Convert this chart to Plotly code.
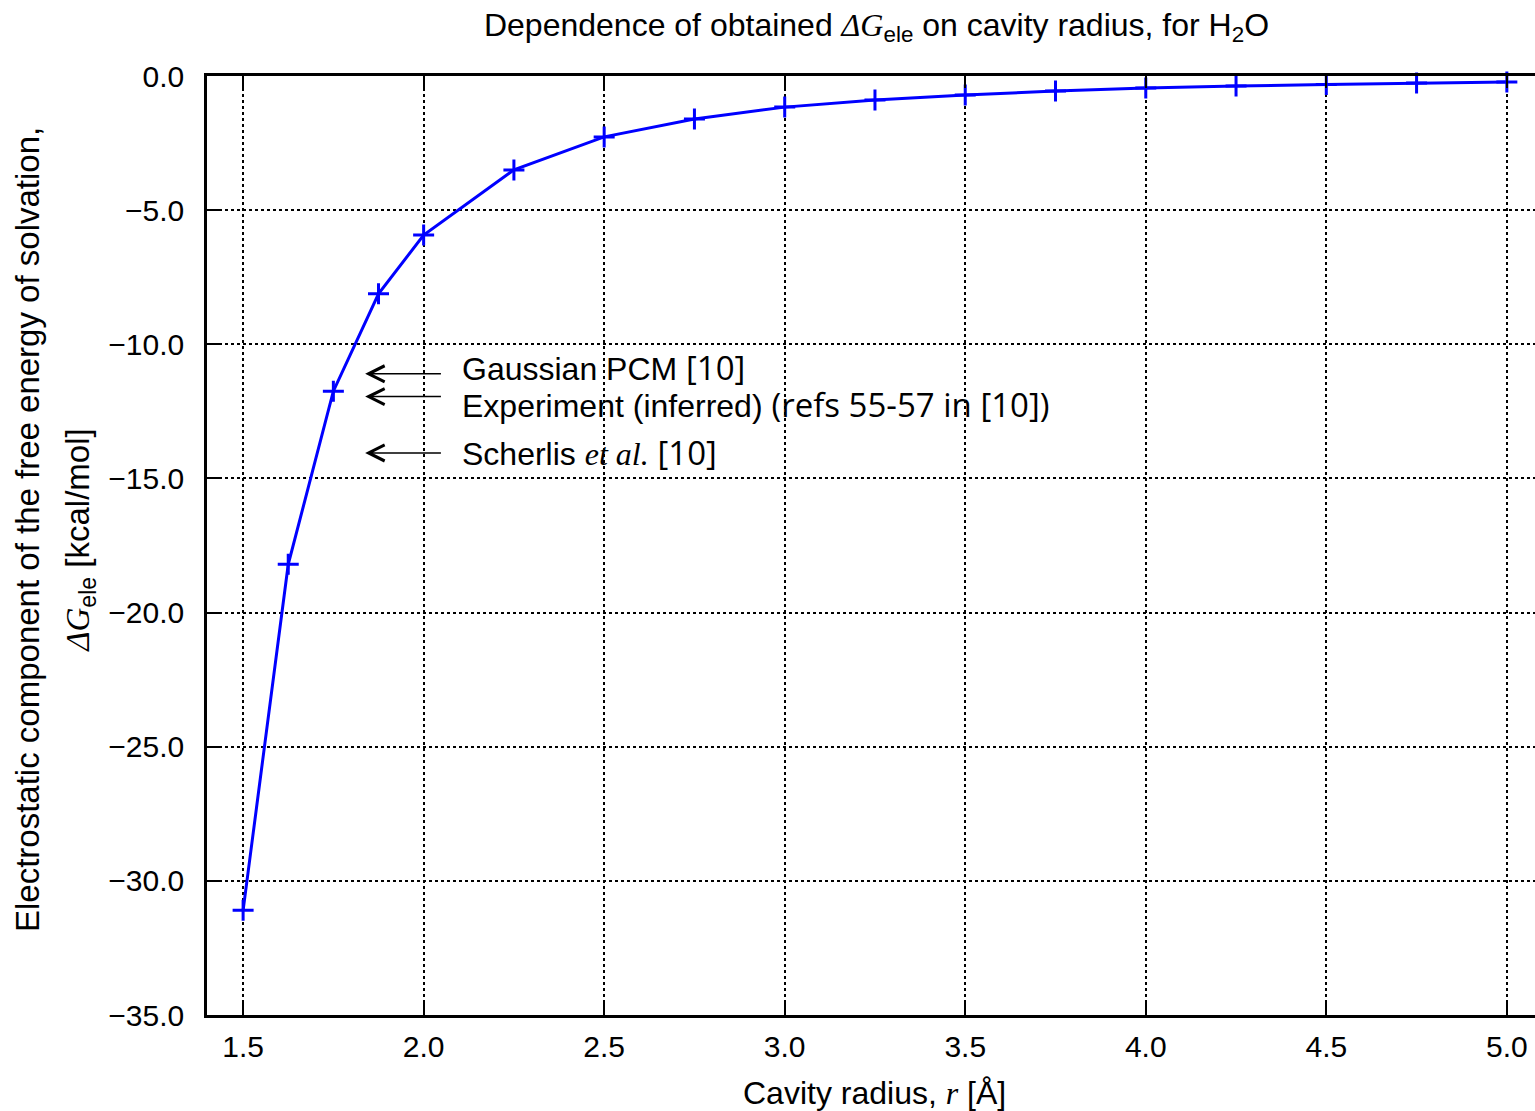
import plotly.graph_objects as go

# Cavity radius r [Å] and electrostatic solvation free energy [kcal/mol]
radius = [1.5, 1.625, 1.75, 1.875, 2.0, 2.25, 2.5, 2.75, 3.0, 3.25, 3.5,
          3.75, 4.0, 4.25, 4.5, 4.75, 5.0]
dg_ele = [-31.1, -18.2, -11.75, -8.12, -5.93, -3.5, -2.27, -1.6, -1.16,
          -0.89, -0.71, -0.56, -0.45, -0.37, -0.32, -0.26, -0.22]

# Reference values marked by arrows on the left, with their captions
ref_labels = ["Gaussian PCM", "Experiment (inferred)", "Scherlis <i>et al.</i>"]
ref_suffix = ["[10]", "(refs 55-57 in [10])", "[10]"]
ref_values = [-11.1, -11.95, -14.05]
ref_text_y = [-10.88, -12.26, -14.05]

x_ticks = [1.5, 2.0, 2.5, 3.0, 3.5, 4.0, 4.5, 5.0]
y_ticks = [0, -5, -10, -15, -20, -25, -30, -35]

SANS = "Liberation Sans, Arial, sans-serif"
SERIF = "Liberation Serif, Times New Roman, serif"
ALT = "Open Sans, Lato, sans-serif"


def serif_italic(s):
    return f"<span style='font-family:{SERIF}'><i>{s}</i></span>"


fig = go.Figure()
fig.add_trace(go.Scatter(
    x=radius, y=dg_ele, mode="lines+markers",
    line=dict(color="#0000ff", width=3),
    marker=dict(symbol="cross-thin", size=15, color="#0000ff",
                line=dict(color="#0000ff", width=3)),
    showlegend=False, cliponaxis=False,
))

for lab, suf, val, ty in zip(ref_labels, ref_suffix, ref_values, ref_text_y):
    fig.add_annotation(
        x=1.838, y=val, ax=2.052, ay=val, xref="x", yref="y",
        axref="x", ayref="y", text="", showarrow=True,
        arrowhead=5, arrowsize=2.1, arrowwidth=1.5, arrowcolor="black",
    )
    lab_html = lab.replace("<i>et al.</i>", serif_italic("et al."))
    fig.add_annotation(
        x=2.102, y=ty, xref="x", yref="y", xanchor="left", yanchor="middle",
        text=(f"{lab_html} <span style='font-family:{ALT};font-size:33px'>"
              f"{suf}</span>"),
        showarrow=False, font=dict(family=SANS, size=32, color="black"),
    )

title_html = (f"Dependence of obtained {serif_italic('ΔG')}"
              "<sub>ele</sub> on cavity radius, for H<sub>2</sub>O")

# Axis titles placed as annotations for exact spacing
fig.add_annotation(
    x=-0.1355, y=0.5165, xref="paper", yref="paper", textangle=-90,
    xanchor="center", yanchor="middle",
    text="Electrostatic component of the free energy of solvation,",
    showarrow=False, font=dict(family=SANS, size=33, color="black"),
)
fig.add_annotation(
    x=-0.0956, y=0.505, xref="paper", yref="paper", textangle=-90,
    xanchor="center", yanchor="middle",
    text=f"{serif_italic('ΔG')}<sub>ele</sub> [kcal/mol]",
    showarrow=False, font=dict(family=SANS, size=33, color="black"),
)
fig.add_annotation(
    x=0.503, y=-0.083, xref="paper", yref="paper",
    xanchor="center", yanchor="middle",
    text=f"Cavity radius, {serif_italic('r')} [Å]",
    showarrow=False, font=dict(family=SANS, size=32, color="black"),
)

fig.update_layout(
    width=1535, height=1111,
    margin=dict(l=207, r=0, t=76, b=96),
    paper_bgcolor="white", plot_bgcolor="white",
    font=dict(family=SANS, size=30, color="black"),
    title=dict(text=title_html, x=0.571, xanchor="center", y=0.988, yanchor="top",
               font=dict(size=32)),
    xaxis=dict(
        range=[1.4, 5.078], tickvals=x_ticks, tickformat=".1f",
        ticks="inside", ticklen=12, tickwidth=2, tickcolor="black",
        ticklabelstandoff=3,
        showline=True, linecolor="black", linewidth=2.5, mirror="ticks",
        showgrid=True, gridcolor="black", gridwidth=2, griddash="dot",
        zeroline=False,
    ),
    yaxis=dict(
        range=[-35, 0], tickvals=y_ticks, tickformat=".1f",
        ticks="inside", ticklen=12, tickwidth=2, tickcolor="black",
        ticklabelstandoff=14,
        showline=True, linecolor="black", linewidth=2.5, mirror=False,
        showgrid=True, gridcolor="black", gridwidth=2, griddash="dot",
        zeroline=False,
    ),
)

fig.write_html("out.html")
